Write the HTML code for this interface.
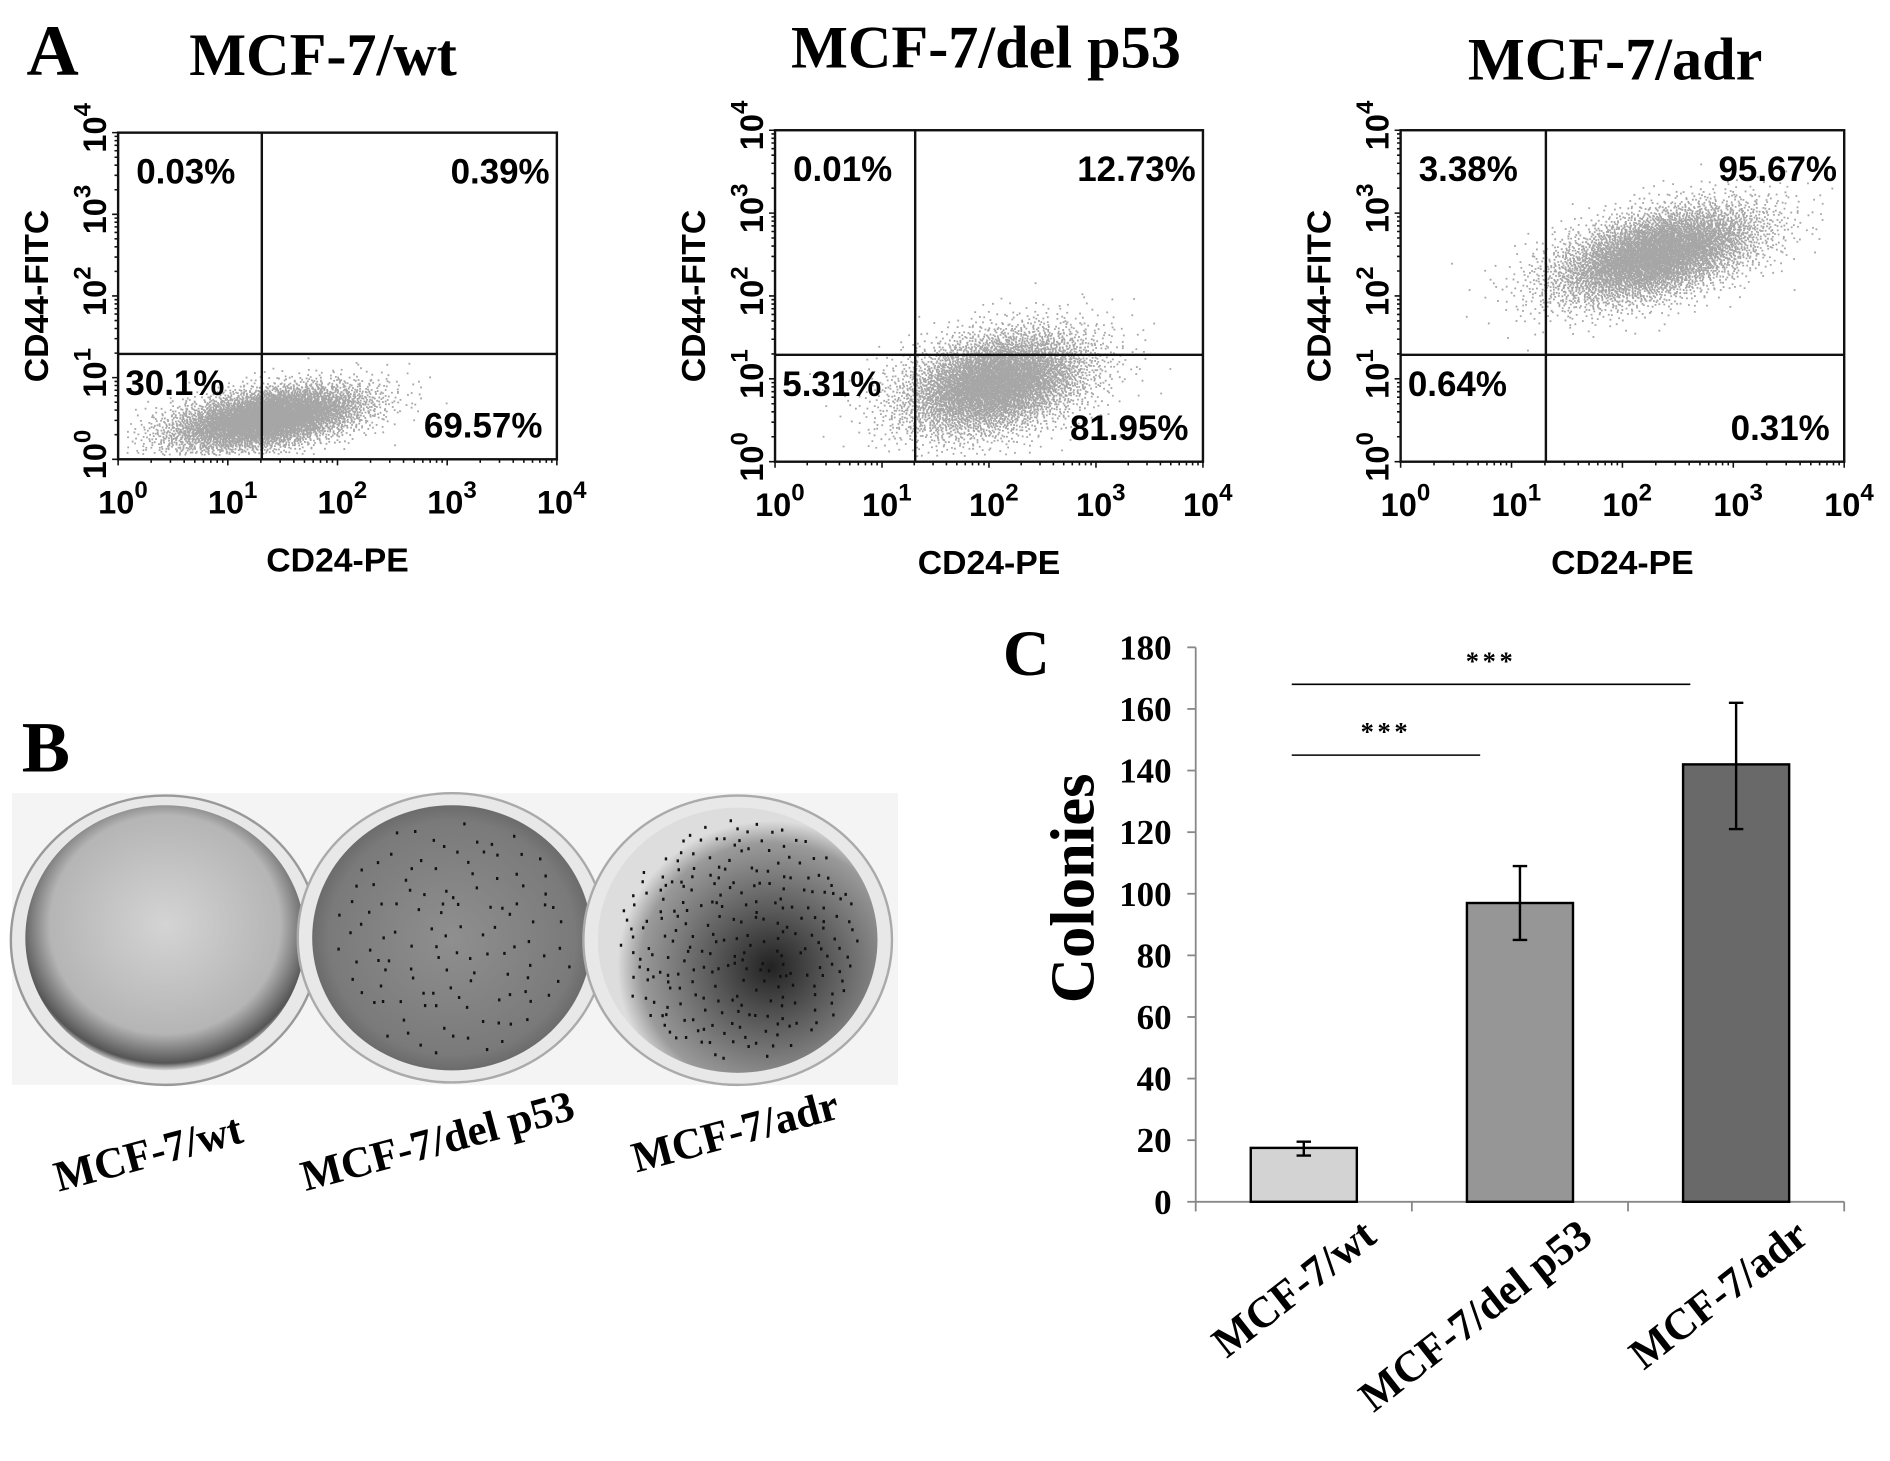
<!DOCTYPE html>
<html><head><meta charset="utf-8">
<style>
html,body{margin:0;padding:0;background:#fff;}
svg{display:block;}
.ser{font-family:"Liberation Serif",serif;font-weight:bold;}
.san{font-family:"Liberation Sans",sans-serif;font-weight:bold;}
</style></head>
<body>
<svg id="fig" width="1890" height="1461" viewBox="0 0 1568 1212" xmlns="http://www.w3.org/2000/svg">
<defs>
<radialGradient id="d1" cx="50%" cy="45%" r="55%"><stop offset="0" stop-color="#d4d4d4"/><stop offset="0.75" stop-color="#b5b5b5"/><stop offset="0.95" stop-color="#555"/><stop offset="1" stop-color="#ddd"/></radialGradient>
<radialGradient id="d2" cx="50%" cy="50%" r="55%"><stop offset="0" stop-color="#8f8f8f"/><stop offset="0.8" stop-color="#7a7a7a"/><stop offset="0.95" stop-color="#666"/><stop offset="1" stop-color="#ddd"/></radialGradient>
<radialGradient id="d3" cx="62%" cy="60%" r="55%"><stop offset="0" stop-color="#222"/><stop offset="0.35" stop-color="#555"/><stop offset="0.85" stop-color="#9a9a9a"/><stop offset="1" stop-color="#ddd"/></radialGradient>
</defs>
<text class="ser" x="22" y="62" font-size="60">A</text>
<text class="ser" x="18" y="640" font-size="60">B</text>
<text class="ser" x="832" y="560" font-size="54">C</text>
<g id="flow"></g>
<g id="dishes">
 <rect x="10" y="658" width="735" height="242" fill="#f4f4f4"/>
 <ellipse cx="137" cy="780" rx="128" ry="120" fill="#e8e8e8" stroke="#999" stroke-width="2"/>
 <ellipse cx="137" cy="778" rx="116" ry="110" fill="url(#d1)"/>
 <ellipse cx="375" cy="778" rx="128" ry="120" fill="#e8e8e8" stroke="#aaa" stroke-width="2"/>
 <ellipse cx="375" cy="778" rx="116" ry="110" fill="url(#d2)"/>
 <ellipse cx="612" cy="780" rx="128" ry="120" fill="#e8e8e8" stroke="#aaa" stroke-width="2"/>
 <ellipse cx="612" cy="780" rx="116" ry="110" fill="url(#d3)"/>
</g>
<text class="ser" font-size="36" transform="translate(126,968) rotate(-15)" text-anchor="middle">MCF-7/wt</text>
<text class="ser" font-size="36" transform="translate(366,958) rotate(-15)" text-anchor="middle">MCF-7/del p53</text>
<text class="ser" font-size="36" transform="translate(613,950) rotate(-15)" text-anchor="middle">MCF-7/adr</text>
<g id="bars"></g>
</svg>
<script>
// ---------- Flow cytometry panels ----------
const flowTitles = ["MCF-7/wt","MCF-7/del p53","MCF-7/adr"];
const flowQuadUL = ["0.03%","0.01%","3.38%"];
const flowQuadUR = ["0.39%","12.73%","95.67%"];
const flowQuadLL = ["30.1%","5.31%","0.64%"];
const flowQuadLR = ["69.57%","81.95%","0.31%"];
const flowCenterX = [1.35,2.05,2.3];   // log10 CD24
const flowCenterY = [0.5,0.95,2.5];    // log10 CD44
const flowSpreadX = [0.45,0.45,0.48];
const flowSpreadY = [0.2,0.32,0.3];
const flowCorr = [0.45,0.35,0.5];
const quadX = 1.31, quadY = 1.29;
const decadeTicks = [0,1,2,3,4];

const NS="http://www.w3.org/2000/svg";
function mk(tag,attrs,parent){const e=document.createElementNS(NS,tag);for(const k in attrs)e.setAttribute(k,attrs[k]);parent.appendChild(e);return e;}
const boxes=[{l:98,r:462,t:110,b:381,tx:268,ty:62},{l:643,r:998,t:108,b:383,tx:818,ty:56},{l:1162,r:1530,t:108,b:383,tx:1340,ty:66}];
const flow=document.getElementById('flow');
function halton(i,b){let f=1,r=0;while(i>0){f/=b;r+=f*(i%b);i=Math.floor(i/b);}return r;}
boxes.forEach((B,p)=>{
  const g=mk('g',{},flow);
  
  
  const W=B.r-B.l,H=B.b-B.t;
  const sx=v=>B.l+v/4*W, sy=v=>B.b-v/4*H;
  const t=mk('text',{x:B.tx,y:B.ty,'font-size':50,'text-anchor':'middle',class:'ser'},g);t.textContent=flowTitles[p];
  
  
  let d='';
  for(let i=1;i<6000;i++){
    const u1=Math.max(halton(i,2),1e-6),u2=halton(i,3);
    const rr=Math.sqrt(-2*Math.log(u1));
    const z1=rr*Math.cos(2*Math.PI*u2),z2=rr*Math.sin(2*Math.PI*u2);
    const xv=flowCenterX[p]+flowSpreadX[p]*z1;
    const yv=flowCenterY[p]+flowSpreadY[p]*(flowCorr[p]*z1+Math.sqrt(1-flowCorr[p]**2)*z2);
    if(xv<0.05||xv>3.95||yv<0.05||yv>3.95)continue;
    const X=sx(xv),Y=sy(yv);d+='M'+X.toFixed(1)+' '+Y.toFixed(1)+'h1.5';
  }
  const pts=mk('path',{d:d,stroke:'#a6a6a6','stroke-width':1.5,fill:'none'},g);
  
  
  mk('rect',{x:B.l,y:B.t,width:W,height:H,fill:'none',stroke:'#111','stroke-width':2},g);
  const qx=mk('line',{x1:sx(quadX),x2:sx(quadX),y1:B.t,y2:B.b,stroke:'#111','stroke-width':2},g);
  
  
  const qy=mk('line',{x1:B.l,x2:B.r,y1:sy(quadY),y2:sy(quadY),stroke:'#111','stroke-width':2},g);
  
  
  let td='';
  decadeTicks.forEach(k=>{
    td+='M'+sx(k)+' '+B.b+'v5M'+B.l+' '+sy(k)+'h-5';
    if(k<4)for(let m=2;m<10;m++){const v=k+Math.log10(m);td+='M'+sx(v).toFixed(1)+' '+B.b+'v3M'+B.l+' '+sy(v).toFixed(1)+'h-3';}
  });
  mk('path',{d:td,stroke:'#111','stroke-width':1.3,fill:'none'},g);
  decadeTicks.forEach(k=>{
    const xl=mk('text',{x:sx(k)+4,y:B.b+45,'font-size':27,'text-anchor':'middle',class:'san'},g);
    xl.innerHTML='10<tspan dy="-13" font-size="20">'+k+'</tspan>';
    
    
    const yl=mk('text',{'font-size':27,'text-anchor':'middle',class:'san',transform:'translate('+(B.l-10)+','+(sy(k)-4)+') rotate(-90)'},g);
    yl.innerHTML='10<tspan dy="-13" font-size="20">'+k+'</tspan>';
    
    
  });
  const xt=mk('text',{x:(B.l+B.r)/2,y:B.b+93,'font-size':28,'text-anchor':'middle',class:'san'},g);xt.textContent='CD24-PE';
  
  
  const yt=mk('text',{'font-size':28,'text-anchor':'middle',class:'san',transform:'translate('+(B.l-58)+','+((B.t+B.b)/2)+') rotate(-90)'},g);yt.textContent='CD44-FITC';
  
  
  const qs=[[flowQuadUL[p],B.l+15,B.t+42,'start'],[flowQuadUR[p],B.r-6,B.t+42,'end'],[flowQuadLL[p],B.l+6,sy(quadY)+34,'start'],[flowQuadLR[p],B.r-12,B.b-18,'end']];
  const names=['quadrant-ul-percent','quadrant-ur-percent','quadrant-ll-percent','quadrant-lr-percent'];
  qs.forEach((q,i)=>{const e=mk('text',{x:q[1],y:q[2],'font-size':29,'text-anchor':q[3],class:'san'},g);e.textContent=q[0];
    
    });
});
(function(){const g=document.getElementById('dishes');const cs=[[375,778,120],[612,780,260]];
cs.forEach((c,j)=>{let d='';for(let i=1;i<c[2];i++){const a=halton(i+j*500,2)*2*Math.PI,r=Math.sqrt(halton(i+j*500,3))*100;d+='M'+(c[0]+r*Math.cos(a)).toFixed(1)+' '+(c[1]+r*1.0*Math.sin(a)).toFixed(1)+'h2';}
mk('path',{d:d,stroke:'#111','stroke-width':2.5,fill:'none'},g);});})();

// ---------- Colony bar chart ----------
const barCategories = ["MCF-7/wt","MCF-7/del p53","MCF-7/adr"];
const barValues = [17.5,97,142];
const barErrLow = [15,85,121];
const barErrHigh = [19.5,109,162];
const yTicks = [0,20,40,60,80,100,120,140,160,180];
const barColors = ["#d3d3d3","#969696","#696969"];
const sigStars = ["***","***"];
const sigLevels = [145,168];
const sigFrom = [0,0];
const sigTo = [1,2];

const bg=document.getElementById('bars');
const x0=992,x1=1530,y0=997,y1=537;
const ys=v=>y0-(v-0)/180*(y0-y1);
const slot=(x1-x0)/barCategories.length;
const xc=i=>x0+slot*(i+0.5);
mk('line',{x1:x0,x2:x0,y1:y1,y2:y0,stroke:'#888','stroke-width':1.5},bg);
mk('line',{x1:x0,x2:x1,y1:y0,y2:y0,stroke:'#888','stroke-width':1.5},bg);
yTicks.forEach(v=>{mk('line',{x1:x0-7,x2:x0,y1:ys(v),y2:ys(v),stroke:'#888','stroke-width':1.5},bg);
  const t=mk('text',{x:x0-20,y:ys(v)+10,'font-size':29,'text-anchor':'end',class:'ser'},bg);t.textContent=v;
  
  });
for(let i=0;i<=barCategories.length;i++)mk('line',{x1:x0+slot*i,x2:x0+slot*i,y1:y0,y2:y0+8,stroke:'#888','stroke-width':1.5},bg);
const bw=88;
barValues.forEach((v,i)=>{
  const r=mk('rect',{x:xc(i)-bw/2,y:ys(v),width:bw,height:ys(0)-ys(v),fill:barColors[i],stroke:'#000','stroke-width':2},bg);
  
  
  const e=mk('path',{d:'M'+(xc(i)-6)+' '+ys(barErrLow[i])+'h12M'+(xc(i)-6)+' '+ys(barErrHigh[i])+'h12M'+xc(i)+' '+ys(barErrLow[i])+'V'+ys(barErrHigh[i]),stroke:'#000','stroke-width':2,fill:'none'},bg);
  
  
  const lab=mk('text',{'font-size':36,'text-anchor':'end',class:'ser',transform:'translate('+(xc(i)+62)+','+(y0+32)+') rotate(-38)'},bg);lab.textContent=barCategories[i];
  
  
});
sigLevels.forEach((v,i)=>{
  const a=xc(sigFrom[i])-10,b=xc(sigTo[i])-(i==0?33:38);
  const l=mk('line',{x1:a,x2:b,y1:ys(v),y2:ys(v),stroke:'#000','stroke-width':1.3},bg);
  
  
  const s=mk('text',{x:(a+b)/2,y:ys(v)-12,'font-size':22,'text-anchor':'middle',class:'ser','letter-spacing':'3'},bg);s.textContent=sigStars[i];
  
  
});
const ct=mk('text',{'font-size':52,'text-anchor':'middle',class:'ser',transform:'translate(907,737) rotate(-90)'},bg);ct.textContent='Colonies';


</script>
</body></html>
